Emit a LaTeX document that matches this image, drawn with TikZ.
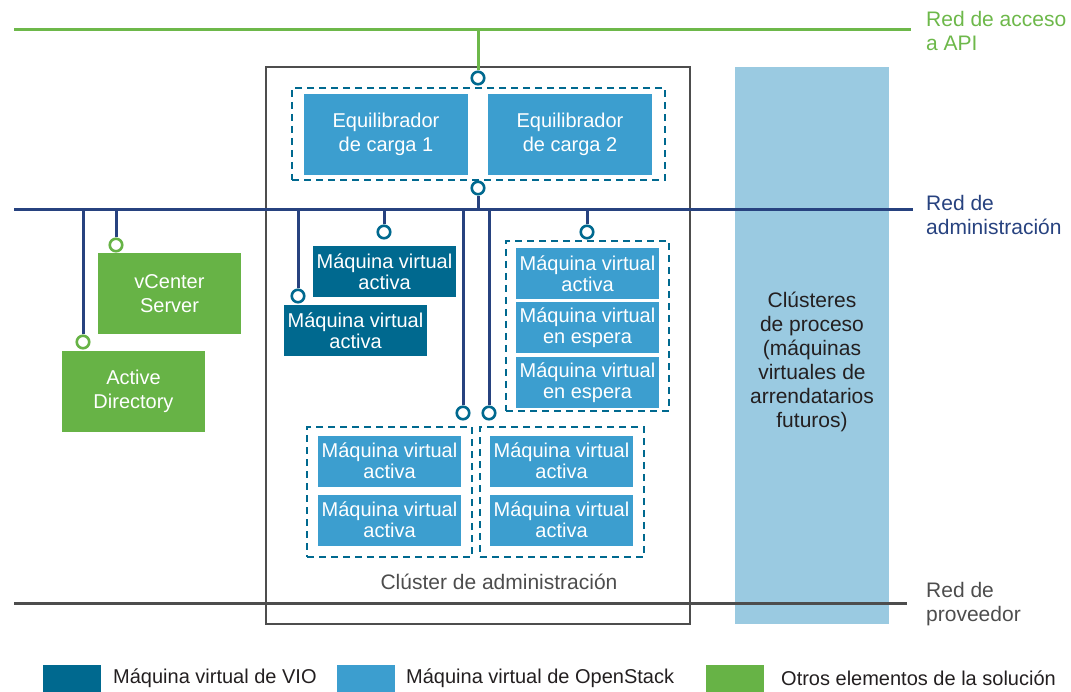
\documentclass[tikz,border=0pt]{standalone}
\usepackage{fontspec}
\setmainfont{Liberation Sans}
\definecolor{vio}{HTML}{00698F}
\definecolor{osk}{HTML}{3C9ECF}
\definecolor{oth}{HTML}{67B346}
\definecolor{cmp}{HTML}{9ACAE1}
\definecolor{navy}{HTML}{27427F}
\definecolor{apigreen}{HTML}{6DB84A}
\definecolor{provgray}{HTML}{4D4D4D}
\definecolor{txtdark}{HTML}{231F20}
\tikzset{
  box/.style={draw=none, inner sep=0pt, text=white, align=center,
    minimum width=143pt, minimum height=51pt, font=\fontsize{20}{21}\selectfont},
  vio/.style={box, fill=vio},
  osk/.style={box, fill=osk},
  oth/.style={box, fill=oth, minimum height=81pt, font=\fontsize{20}{24}\selectfont},
  grp/.style={draw=vio, dash pattern=on 7pt off 5pt, line width=2.7pt, inner sep=0pt},
  port/.style={circle, draw=vio, fill=white, line width=2.6pt, minimum size=12.5pt, inner sep=0pt},
  gport/.style={port, draw=oth},
  apiline/.style={draw=apigreen, line width=3pt},
  admline/.style={draw=navy, line width=3pt},
  provline/.style={draw=provgray, line width=3pt},
  netlabel/.style={anchor=west, inner sep=0pt, align=left, font=\fontsize{21}{24}\selectfont},
  legtext/.style={anchor=west, inner sep=0pt, text=txtdark, font=\fontsize{20}{22}\selectfont},
  legsq/.style={minimum width=58pt, minimum height=27pt, inner sep=0pt}
}
\begin{document}
\begin{tikzpicture}[x=1pt, y=-1pt]
\useasboundingbox (0,0) rectangle (1071,692);

% compute clusters (under the network lines)
\node[fill=cmp, minimum width=154pt, minimum height=557pt, inner sep=0pt] (cmpbox) at (812,345.5) {};
\node[text=txtdark, align=center, inner sep=0pt, font=\fontsize{21}{24}\selectfont] (cmptext) at (812,362)
  {Clústeres\\de proceso\\(máquinas\\virtuales de\\arrendatarios\\futuros)};

% management cluster
\node[draw=provgray, line width=2.6pt, minimum width=424pt, minimum height=557pt, inner sep=0pt] (mgmt) at (478,345.5) {};
\node[text=provgray, inner sep=0pt, font=\fontsize{21}{24}\selectfont] (mgmtlabel) at (499,582) {Clúster de administración};

% network lines
\coordinate (apiL) at (14,30);
\coordinate (apiR) at (911,30);
\coordinate (admL) at (14,210);
\coordinate (admR) at (913,210);
\coordinate (provL) at (14,603);
\coordinate (provR) at (907,603);
\draw[apiline] (apiL) -- (apiR);
\draw[admline] (admL) -- (admR);
\draw[provline] (provL) -- (provR);
\node[netlabel, text=apigreen] (apilabel) at (926,31) {Red de acceso\\a API};
\node[netlabel, text=navy] (admlabel) at (926,215) {Red de\\administración};
\node[netlabel, text=provgray] (provlabel) at (926,604) {Red de\\proveedor};

% load balancers
\node[grp, minimum width=373pt, minimum height=92pt] (lbgrp) at (478.5,134) {};
\node[osk, minimum width=164pt, minimum height=81pt, font=\fontsize{20}{24}\selectfont] (lb1) at (386,134.5) {Equilibrador\\de carga 1};
\node[osk, minimum width=164pt, minimum height=81pt, font=\fontsize{20}{24}\selectfont] (lb2) at (570,134.5) {Equilibrador\\de carga 2};
\node[port] (papi) at (478,78) {};
\node[port] (plb) at (478,188) {};
\draw[apiline] (papi.north) -- (papi.north |- apiL);
\draw[admline] (plb.south) -- (plb.south |- admL);

% other solution elements
\node[oth] (vc) at (169.5,293.5) {vCenter\\Server};
\node[oth] (ad) at (133.5,391.5) {Active\\Directory};
\node[gport] (pvc) at (116,245) {};
\node[gport] (pad) at (83,342) {};
\draw[admline] (pvc.north) -- (pvc.north |- admL);
\draw[admline] (pad.north) -- (pad.north |- admL);

% VIO virtual machines
\node[vio] (vio1) at (384.5,271.5) {Máquina virtual\\activa};
\node[vio] (vio2) at (355.5,330.5) {Máquina virtual\\activa};
\node[port] (pvio1) at (384,232) {};
\node[port] (pvio2) at (298,296) {};
\draw[admline] (pvio1.north) -- (pvio1.north |- admL);
\draw[admline] (pvio2.north) -- (pvio2.north |- admL);

% right group
\node[grp, minimum width=163pt, minimum height=170pt] (grpR) at (587.5,326) {};
\node[osk] (r1) at (587.5,273.5) {Máquina virtual\\activa};
\node[osk] (r2) at (587.5,328) {Máquina virtual\\en espera};
\node[osk] (r3) at (587.5,382.5) {Máquina virtual\\en espera};
\node[port] (pgrpR) at (587,232) {};
\draw[admline] (pgrpR.north) -- (pgrpR.north |- admL);

% bottom left group
\node[grp, minimum width=165pt, minimum height=130pt] (grpBL) at (389.5,492) {};
\node[osk] (bl1) at (389.5,461) {Máquina virtual\\activa};
\node[osk] (bl2) at (389.5,520) {Máquina virtual\\activa};
\node[port] (pbl) at (463,413) {};
\draw[admline] (pbl.north) -- (pbl.north |- admL);

% bottom right group
\node[grp, minimum width=164pt, minimum height=130pt] (grpBR) at (562,492) {};
\node[osk] (br1) at (561.5,461) {Máquina virtual\\activa};
\node[osk] (br2) at (561.5,520) {Máquina virtual\\activa};
\node[port] (pbr) at (489,413) {};
\draw[admline] (pbr.north) -- (pbr.north |- admL);

% legend
\node[legsq, fill=vio] (lsq1) at (72,678.5) {};
\node[legtext] (lt1) at (113,678) {Máquina virtual de VIO};
\node[legsq, fill=osk] (lsq2) at (366,678.5) {};
\node[legtext] (lt2) at (406,678) {Máquina virtual de OpenStack};
\node[legsq, fill=oth] (lsq3) at (735,678.5) {};
\node[legtext] (lt3) at (781,678) {Otros elementos de la solución};
\end{tikzpicture}
\end{document}
